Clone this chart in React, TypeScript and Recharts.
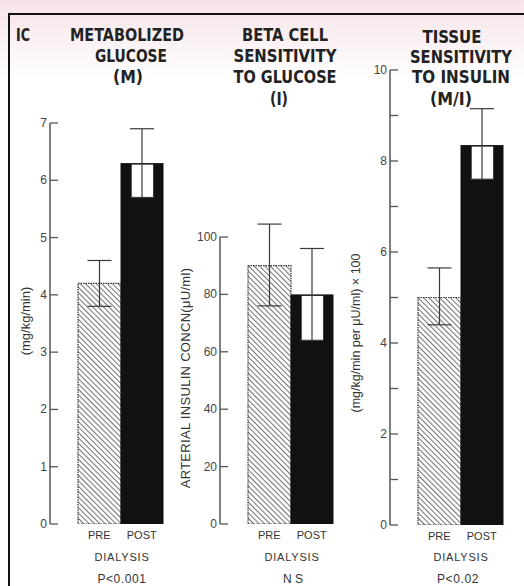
import React from 'react';
import { BarChart, Bar, XAxis, YAxis, ErrorBar } from 'recharts';

const categories = ['PRE', 'POST'];

const glucoseValues = [4.2, 6.3];
const glucoseLow = [3.8, 5.7];
const glucoseHigh = [4.6, 6.9];
const glucoseTicks = [0, 1, 2, 3, 4, 5, 6, 7];

const insulinValues = [90, 80];
const insulinLow = [76, 64];
const insulinHigh = [104.5, 96];
const insulinTicks = [0, 20, 40, 60, 80, 100];

const ratioValues = [5.0, 8.35];
const ratioLow = [4.4, 7.6];
const ratioHigh = [5.65, 9.15];
const ratioTicks = [0, 1, 2, 3, 4, 5, 6, 7, 8, 9, 10];
const ratioLabeledTicks = [0, 2, 4, 6, 8, 10];

const makeRows = (vals: number[], lo: number[], hi: number[]) =>
  categories.map((c, i) => ({
    name: c,
    value: vals[i],
    lo: lo[i],
    hi: hi[i],
    err: [vals[i] - lo[i], hi[i] - vals[i]],
  }));

const glucoseRows = makeRows(glucoseValues, glucoseLow, glucoseHigh);
const insulinRows = makeRows(insulinValues, insulinLow, insulinHigh);
const ratioRows = makeRows(ratioValues, ratioLow, ratioHigh);

const TITLE_FONT = "'Liberation Sans Narrow', 'DejaVu Sans Condensed', 'Roboto Condensed', sans-serif";
const BODY_FONT = "'Liberation Sans', Arial, Helvetica, sans-serif";

const makeShape = (pid: string) => (props: any) => {
  const { x, y, width, height, payload, index } = props;
  const isPre = payload ? payload.name === 'PRE' : index === 0;
  if (isPre) {
    return (
      <g>
        <defs>
          <pattern id={`hatch-${pid}`} patternUnits="userSpaceOnUse" width={3.8} height={3.8} patternTransform="rotate(-45)">
            <rect x={0} y={0} width={3.8} height={3.8} fill="#fcfcfc" />
            <line x1={0.5} y1={0} x2={0.5} y2={3.8} stroke="#666" strokeWidth={0.9} />
          </pattern>
        </defs>
        <rect x={x} y={y} width={width} height={height} fill={`url(#hatch-${pid})`} stroke="#333" strokeWidth={1.2} strokeDasharray="1.5 1" />
      </g>
    );
  }
  const lo = payload ? payload.lo : 0;
  const val = payload ? payload.value : 1;
  const yLo = y + height - height * (lo / val);
  return (
    <g>
      <rect x={x} y={y} width={width} height={height} fill="#111" />
      <rect x={x + width * 0.26} y={y + 1.5} width={width * 0.5} height={yLo - y - 1.5} fill="#fff" />
    </g>
  );
};

const makeYTick = (labeled: number[] | null) => (props: any) => {
  const { x, y, payload } = props;
  const show = labeled ? labeled.includes(payload.value) : true;
  return (
    <g>
      <line x1={x} x2={x + 8} y1={y} y2={y} stroke="#555" strokeWidth={1.3} />
      {show && (
        <text x={x - 3} y={y} dy={4} textAnchor="end" fontSize={12} fill="#444" fontFamily={BODY_FONT}>
          {payload.value}
        </text>
      )}
    </g>
  );
};

type PanelProps = {
  pid: string;
  left: number;
  top: number;
  bottom: number;
  rows: any[];
  domain: [number, number];
  ticks: number[];
  labeled: number[] | null;
};

const Panel = ({ pid, left, top, bottom, rows, domain, ticks, labeled }: PanelProps) => (
  <div style={{ position: 'absolute', left, top: 0 }}>
    <BarChart
      width={175}
      height={586}
      data={rows}
      margin={{ top, right: 5, bottom, left: 10 }}
      barCategoryGap={0}
      barGap={0}
    >
      <XAxis
        dataKey="name"
        axisLine={false}
        tickLine={false}
        tickSize={0}
        tickMargin={7}
        height={30}
        padding={{ left: 28, right: 7 }}
        tick={{ fontSize: 11, fill: '#333', fontFamily: BODY_FONT }}
        interval={0}
      />
      <YAxis
        domain={domain}
        ticks={ticks}
        width={40}
        tickSize={0}
        tickMargin={0}
        tickLine={false}
        axisLine={{ stroke: '#555', strokeWidth: 1.5 }}
        tick={makeYTick(labeled)}
        interval={0}
        allowDataOverflow
      />
      <Bar dataKey="value" isAnimationActive={false} shape={makeShape(pid)}>
        <ErrorBar dataKey="err" width={12} stroke="#3a3a3a" strokeWidth={1.2} direction="y" />
      </Bar>
    </BarChart>
  </div>
);

const Title = ({ x, y, w, children, anchor }: { x: number; y: number; w: number; children: React.ReactNode; anchor?: 'start' | 'middle' | 'end' }) => (
  <text
    x={x}
    y={y}
    fontFamily={TITLE_FONT}
    fontWeight={700}
    fontSize={18}
    fill="#222"
    textAnchor={anchor || 'middle'}
    textLength={w}
    lengthAdjust="spacingAndGlyphs"
  >
    {children}
  </text>
);

const smallProps = {
  fontFamily: BODY_FONT,
  fontSize: 11,
  fill: '#333',
  textAnchor: 'middle' as const,
};

export default function App() {
  return (
    <div style={{ position: 'absolute', left: 0, top: 0, width: 524, height: 586, background: '#fff', overflow: 'hidden' }}>
      <svg width={524} height={586} style={{ position: 'absolute', left: 0, top: 0 }}>
        <defs>
          <linearGradient id="wm" x1="0" y1="0" x2="0" y2="1">
            <stop offset="0" stopColor="#f6e3e8" />
            <stop offset="1" stopColor="#ffffff" />
          </linearGradient>
        </defs>
        <rect x={0} y={0} width={524} height={80} fill="url(#wm)" />
      </svg>

      <Panel pid="g" left={0} top={123} bottom={32} rows={glucoseRows} domain={[0, 7]} ticks={glucoseTicks} labeled={null} />
      <Panel pid="i" left={170} top={237} bottom={32} rows={insulinRows} domain={[0, 100]} ticks={insulinTicks} labeled={null} />
      <Panel pid="r" left={340} top={70} bottom={31} rows={ratioRows} domain={[0, 10]} ticks={ratioTicks} labeled={ratioLabeledTicks} />

      <svg width={524} height={586} style={{ position: 'absolute', left: 0, top: 0, pointerEvents: 'none' }}>
        {/* frame */}
        <line x1={9} y1={14} x2={524} y2={14} stroke="#111" strokeWidth={2} />
        <line x1={9} y1={13} x2={9} y2={586} stroke="#111" strokeWidth={2} />

        {/* titles */}
        <Title x={16} y={41} w={14} anchor="start">IC</Title>
        <Title x={127} y={41} w={114}>METABOLIZED</Title>
        <Title x={131} y={62} w={72}>GLUCOSE</Title>
        <Title x={128} y={83} w={30}>(M)</Title>

        <Title x={285} y={41} w={86}>BETA CELL</Title>
        <Title x={285} y={62} w={103}>SENSITIVITY</Title>
        <Title x={285} y={83} w={103}>TO GLUCOSE</Title>
        <Title x={279} y={105} w={18}>(I)</Title>

        <Title x={452} y={43} w={59}>TISSUE</Title>
        <Title x={461} y={63} w={102}>SENSITIVITY</Title>
        <Title x={461} y={83} w={98}>TO INSULIN</Title>
        <Title x={451} y={105} w={42}>(M/I)</Title>

        {/* y labels */}
        <text fontFamily={BODY_FONT} fontSize={13} fill="#333" textAnchor="middle" transform="translate(30,321) rotate(-90)">(mg/kg/min)</text>
        <text fontFamily={BODY_FONT} fontSize={13} letterSpacing={0.3} fill="#333" textAnchor="middle" transform="translate(190,378) rotate(-90)">ARTERIAL INSULIN CONCN(μU/ml)</text>
        <text fontFamily={BODY_FONT} fontSize={12.5} fill="#333" textAnchor="middle" transform="translate(360,333) rotate(-90)">(mg/kg/min per μU/ml) × 100</text>

        {/* bottom labels */}
        <text {...smallProps} x={122} y={561} letterSpacing={0.8}>DIALYSIS</text>
        <text {...smallProps} x={122} y={583} fontSize={12} letterSpacing={0.6}>P&lt;0.001</text>
        <text {...smallProps} x={292} y={561} letterSpacing={0.8}>DIALYSIS</text>
        <text {...smallProps} x={293} y={583} fontSize={12}>N S</text>
        <text {...smallProps} x={461} y={561} letterSpacing={0.8}>DIALYSIS</text>
        <text {...smallProps} x={458} y={583} fontSize={12} letterSpacing={0.6}>P&lt;0.02</text>
      </svg>
    </div>
  );
}
